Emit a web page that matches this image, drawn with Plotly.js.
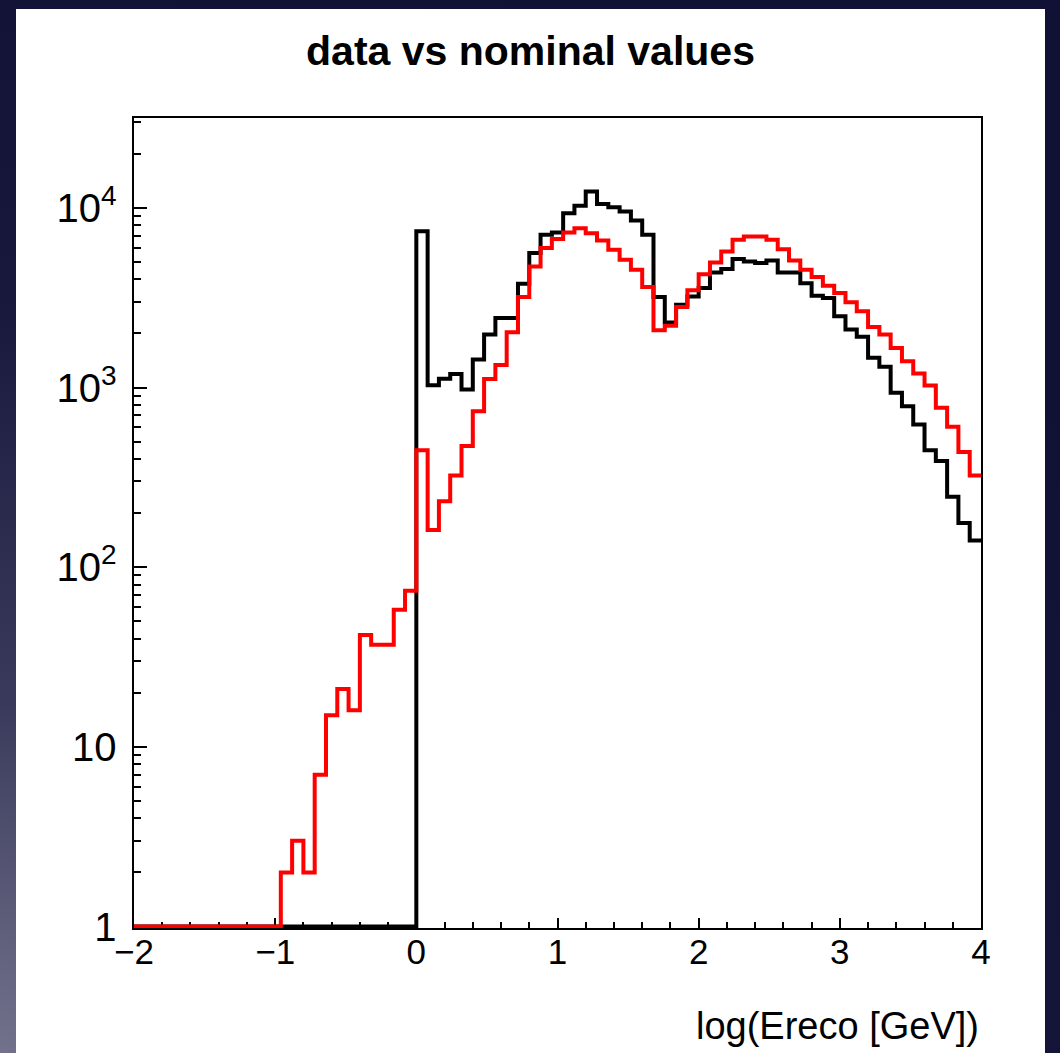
<!DOCTYPE html>
<html>
<head>
<meta charset="utf-8">
<script src="https://cdn.plot.ly/plotly-3.0.1.min.js"></script>
<style>
  html, body { margin: 0; padding: 0; width: 1060px; height: 1053px; overflow: hidden; }
  body { background: radial-gradient(ellipse 120% 110% at 0% 100%, #72728c 0%, #3a3b5c 30%, #17183c 65%, #101134 100%); }
  #chart { position: absolute; left: 16px; top: 9px; width: 1029px; height: 1044px; background: #ffffff; }
</style>
</head>
<body>
<div id="chart"></div>
<script>
// Histogram binning: 75 bins from -2 to 4
const binLow = -2;
const binWidth = 0.08;

// "data" histogram (black) counts per bin
const dataCounts = [
  0, 0, 0, 0, 0, 0, 0, 0, 0, 0,
  0, 0, 0, 0, 0, 0, 0, 0, 0, 0,
  0, 0, 0, 0, 0, 7400, 1030, 1120, 1190, 975,
  1430, 1970, 2440, 2440, 3780, 5600, 7080, 7300, 9340, 10260,
  12320, 10520, 10080, 9540, 8500, 7080, 3190, 2300, 2890, 3215,
  3580, 4370, 4560, 5190, 5030, 4930, 5100, 4370, 4370, 3810,
  3245, 3150, 2490, 2100, 1914, 1463, 1303, 934, 787, 623,
  448, 390, 247, 176, 141
];

// "nominal" histogram (red) counts per bin
const nominalCounts = [
  0, 0, 0, 0, 0, 0, 0, 0, 0, 0,
  0, 0, 0, 2, 3, 2, 7, 15, 21, 16,
  42, 37, 37, 58, 74, 448, 161, 233, 324, 472,
  738, 1117, 1336, 2030, 3190, 4720, 5970, 6700, 7290, 7710,
  7230, 6580, 5840, 5140, 4520, 3625, 2083, 2210, 2805, 3475,
  4270, 4970, 5720, 6640, 6930, 6930, 6640, 5890, 5100, 4520,
  4120, 3690, 3360, 2980, 2655, 2175, 1970, 1660, 1400, 1195,
  1026, 771, 605, 437, 324
];

const titleText = "data vs nominal values";
const xTitleText = "log(Ereco [GeV])";
const yFloor = 1; // empty bins drawn at the axis minimum, as ROOT does on log scale

function stepTrace(counts, color) {
  const xs = [], ys = [];
  for (let i = 0; i < counts.length; i++) {
    xs.push(binLow + i * binWidth);
    ys.push(Math.max(counts[i], yFloor));
  }
  xs.push(binLow + counts.length * binWidth);
  ys.push(Math.max(counts[counts.length - 1], yFloor));
  return {
    type: 'scatter', mode: 'lines', x: xs, y: ys,
    line: { color: color, width: 4, shape: 'hv' },
    hoverinfo: 'skip', showlegend: false
  };
}

const traces = [stepTrace(dataCounts, '#000000'), stepTrace(nominalCounts, '#ff0000')];

const fam = 'Liberation Sans, Arial, Helvetica, sans-serif';

const layout = {
  width: 1029, height: 1044,
  margin: { l: 118, r: 64, t: 109, b: 125, pad: 0 },
  paper_bgcolor: '#ffffff',
  plot_bgcolor: '#ffffff',
  showlegend: false,
  title: {
    text: '<b>' + titleText + '</b>',
    font: { family: fam, size: 41, color: '#000000' },
    x: 0.5, xref: 'container', xanchor: 'center',
    y: 0.9598, yref: 'container', yanchor: 'middle'
  },
  xaxis: {
    range: [-2, 4],
    showgrid: false, zeroline: false,
    showline: true, linecolor: '#000000', linewidth: 2, mirror: true,
    ticks: 'inside', ticklen: 10, tickwidth: 2, tickcolor: '#000000',
    dtick: 1, tick0: 0,
    minor: { ticks: 'inside', ticklen: 6, tickwidth: 2, tickcolor: '#000000', dtick: 0.2, showgrid: false },
    tickfont: { family: fam, size: 35, color: '#000000' },
    ticklabelstandoff: -8,
    layer: 'below traces'
  },
  yaxis: {
    type: 'log',
    range: [-0.008, 4.5],
    showgrid: false, zeroline: false,
    showline: true, linecolor: '#000000', linewidth: 2, mirror: true,
    ticks: 'inside', ticklen: 13, tickwidth: 2, tickcolor: '#000000',
    dtick: 1, exponentformat: 'power',
    minor: { ticks: 'inside', ticklen: 7, tickwidth: 2, tickcolor: '#000000', dtick: 'D1', showgrid: false },
    tickfont: { family: fam, size: 32, color: '#000000' },
    ticklabelstandoff: 9,
    layer: 'below traces'
  },
  annotations: [{
    text: xTitleText,
    xref: 'paper', yref: 'paper',
    x: 1, xanchor: 'right',
    y: -0.121, yanchor: 'middle',
    showarrow: false,
    font: { family: fam, size: 38, color: '#000000' }
  }]
};

Plotly.newPlot('chart', traces, layout, { displayModeBar: false, staticPlot: true });
</script>
</body>
</html>
